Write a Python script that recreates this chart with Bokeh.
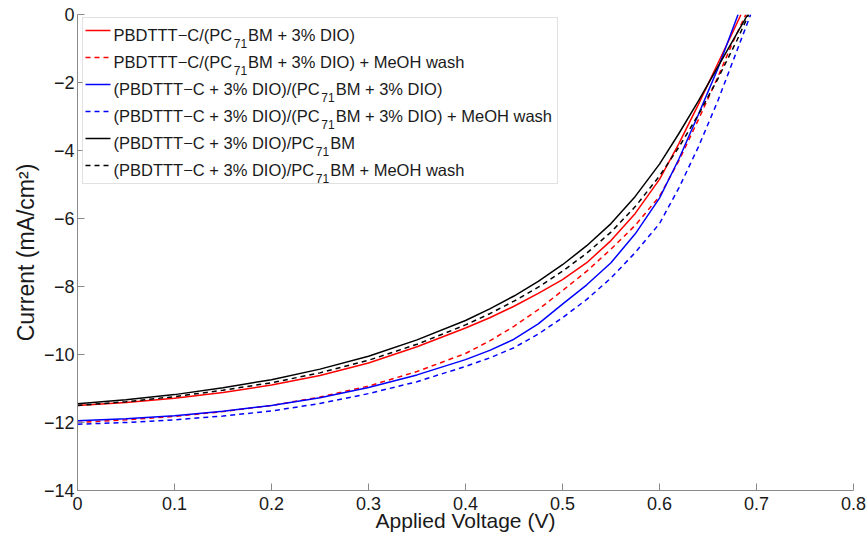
from bokeh.plotting import figure
from bokeh.models import Range1d, FixedTicker, CustomJSTickFormatter, Label, BoxAnnotation
from bokeh.embed import file_html
from bokeh.resources import INLINE

# ---------------- data ----------------
v_red = [0, 0.05, 0.1, 0.15, 0.2, 0.25, 0.3, 0.35, 0.4, 0.425, 0.45, 0.475, 0.5, 0.525, 0.55, 0.575,
         0.6, 0.62, 0.64, 0.66, 0.675, 0.684]
j_red = [-11.5, -11.41, -11.29, -11.12, -10.9, -10.62, -10.25, -9.77, -9.22, -8.92, -8.58, -8.2, -7.8,
         -7.3, -6.65, -5.85, -4.85, -3.8, -2.65, -1.45, -0.55, 0.0]

v_red_wash = [0, 0.05, 0.1, 0.15, 0.2, 0.25, 0.3, 0.35, 0.4, 0.425, 0.45, 0.475, 0.5, 0.525, 0.55, 0.575,
              0.6, 0.62, 0.64, 0.66, 0.675, 0.689]
j_red_wash = [-12.0, -11.92, -11.82, -11.68, -11.5, -11.25, -10.93, -10.5, -9.97, -9.6, -9.17, -8.68, -8.12,
              -7.55, -6.9, -6.2, -5.35, -4.3, -3.1, -1.85, -0.85, 0.0]

v_blue = [0, 0.05, 0.1, 0.15, 0.2, 0.25, 0.3, 0.35, 0.4, 0.425, 0.45, 0.475, 0.5, 0.525, 0.55, 0.575,
          0.6, 0.62, 0.64, 0.66, 0.681]
j_blue = [-11.95, -11.89, -11.8, -11.67, -11.5, -11.27, -10.97, -10.6, -10.15, -9.88, -9.55, -9.1, -8.52,
          -7.95, -7.3, -6.45, -5.4, -4.25, -2.95, -1.6, 0.0]

v_blue_wash = [0, 0.05, 0.1, 0.15, 0.2, 0.25, 0.3, 0.35, 0.4, 0.425, 0.45, 0.475, 0.5, 0.525, 0.55, 0.575,
               0.6, 0.62, 0.64, 0.66, 0.68, 0.694]
j_blue_wash = [-12.05, -12.0, -11.92, -11.81, -11.66, -11.44, -11.15, -10.8, -10.35, -10.1, -9.8, -9.4, -8.92,
               -8.38, -7.75, -7.0, -6.15, -5.1, -3.9, -2.55, -1.05, 0.0]

v_black = [0, 0.05, 0.1, 0.15, 0.2, 0.25, 0.3, 0.35, 0.4, 0.425, 0.45, 0.475, 0.5, 0.525, 0.55, 0.575,
           0.6, 0.62, 0.64, 0.66, 0.68, 0.691]
j_black = [-11.45, -11.33, -11.18, -10.98, -10.74, -10.43, -10.05, -9.57, -9.0, -8.66, -8.28, -7.85, -7.36,
           -6.8, -6.15, -5.35, -4.4, -3.5, -2.55, -1.55, -0.55, 0.0]

v_black_wash = [0, 0.05, 0.1, 0.15, 0.2, 0.25, 0.3, 0.35, 0.4, 0.425, 0.45, 0.475, 0.5, 0.525, 0.55, 0.575,
                0.6, 0.62, 0.64, 0.66, 0.68, 0.692]
j_black_wash = [-11.5, -11.39, -11.24, -11.05, -10.83, -10.54, -10.17, -9.7, -9.13, -8.8, -8.43, -8.02, -7.55,
                -7.02, -6.4, -5.65, -4.75, -3.9, -2.95, -1.9, -0.75, 0.0]

x_ticks = [0, 0.1, 0.2, 0.3, 0.4, 0.5, 0.6, 0.7, 0.8]
y_ticks = [-14, -12, -10, -8, -6, -4, -2, 0]

x_title = "Applied Voltage (V)"
y_title = "Current (mA/cm\u00b2)"

legend_parts = [
    ("PBDTTT\u2212C/(PC", "71", "BM + 3% DIO)"),
    ("PBDTTT\u2212C/(PC", "71", "BM + 3% DIO) + MeOH wash"),
    ("(PBDTTT\u2212C + 3% DIO)/(PC", "71", "BM + 3% DIO)"),
    ("(PBDTTT\u2212C + 3% DIO)/(PC", "71", "BM + 3% DIO) + MeOH wash"),
    ("(PBDTTT\u2212C + 3% DIO)/PC", "71", "BM"),
    ("(PBDTTT\u2212C + 3% DIO)/PC", "71", "BM + MeOH wash"),
]

series = [
    (v_red, j_red, "#ff0000", "solid"),
    (v_red_wash, j_red_wash, "#ff0000", "5 4"),
    (v_blue, j_blue, "#0000ff", "solid"),
    (v_blue_wash, j_blue_wash, "#0000ff", "5 4"),
    (v_black, j_black, "#000000", "solid"),
    (v_black_wash, j_black_wash, "#000000", "5 4"),
]

# ---------------- layout ----------------
FONT = "Liberation Sans"
TXT = "#1a1a1a"
X0, X1, Y0, Y1 = 0.0, 0.8, -14.0, 0.0
FW, FH = 776, 476
ML, MT = 77, 14

p = figure(frame_width=FW, frame_height=FH, min_border_left=ML, min_border_right=15,
           min_border_top=MT, min_border_bottom=50,
           x_range=Range1d(X0, X1), y_range=Range1d(Y0, Y1),
           output_backend="svg", toolbar_location=None, tools="")
p.background_fill_color = "white"
p.border_fill_color = "white"
p.outline_line_color = None
p.xgrid.visible = False
p.ygrid.visible = False

p.xaxis.ticker = FixedTicker(ticks=x_ticks)
p.yaxis.ticker = FixedTicker(ticks=y_ticks)
p.xaxis.formatter = CustomJSTickFormatter(code="return (Math.round(tick*10)/10).toString();")
p.yaxis.formatter = CustomJSTickFormatter(code="return tick < 0 ? '\u2212' + Math.abs(tick) : tick.toString();")

for ax in (p.xaxis, p.yaxis):
    ax.axis_line_color = "#8a8a8a"
    ax.major_tick_line_color = "#8a8a8a"
    ax.major_tick_in = 7
    ax.major_tick_out = 0
    ax.minor_tick_line_color = None
    ax.major_label_text_font = FONT
    ax.major_label_text_font_size = "18px"
    ax.major_label_text_color = TXT
    ax.axis_label_text_font = FONT
    ax.axis_label_text_font_style = "normal"
    ax.axis_label_text_color = TXT

p.xaxis.axis_label = x_title
p.xaxis.axis_label_text_font_size = "21px"
p.xaxis.major_label_standoff = 6
p.xaxis.axis_label_standoff = -4
p.yaxis.axis_label = y_title
p.yaxis.axis_label_text_font_size = "23px"
p.yaxis.major_label_standoff = 3
p.yaxis.axis_label_standoff = 2

for v, j, c, d in series:
    p.line(v, j, line_color=c, line_width=1.5, line_dash=d)

# ---------------- helpers: pixel layout -> data coords ----------------
def dx(px):
    return X0 + (px - ML) * (X1 - X0) / FW

def dy(py):
    return Y1 - (py - MT) * (Y1 - Y0) / FH

W = {" ": 278, "(": 333, ")": 333, "/": 278, "+": 584, "%": 889, "\u2212": 584, ".": 278,
     "A": 667, "B": 667, "C": 722, "D": 722, "H": 722, "I": 278, "M": 833, "O": 778,
     "P": 667, "T": 611, "a": 556, "e": 556, "h": 556, "s": 500, "w": 722}
def width(s, size):
    return sum(W.get(ch, 556) for ch in s) * size / 1000.0

# ---------------- manual legend ----------------
MAIN, SUB = 16.5, 12.0
p.add_layout(BoxAnnotation(left=dx(82), right=dx(557), top=dy(17), bottom=dy(183),
                           fill_color="white", fill_alpha=1.0, line_color="#9a9a9a",
                           line_width=1, level="annotation"))

for i, ((a, sub, b), (v, j, c, d)) in enumerate(zip(legend_parts, series)):
    base = 34 + 27 * i
    p.line([dx(85), dx(110)], [dy(base - 4), dy(base - 4)], line_color=c, line_width=1.5,
           line_dash=d, level="overlay")
    x = 113
    p.add_layout(Label(x=dx(x), y=dy(base), text=a, text_font=FONT, text_font_size=f"{MAIN}px",
                       text_baseline="alphabetic", text_align="left", text_color=TXT))
    x += width(a, MAIN) + 1.5
    p.add_layout(Label(x=dx(x), y=dy(base + 9), text=sub, text_font=FONT, text_font_size=f"{SUB}px",
                       text_baseline="alphabetic", text_align="left", text_color=TXT))
    x += width(sub, SUB) + 1
    p.add_layout(Label(x=dx(x), y=dy(base), text=b, text_font=FONT, text_font_size=f"{MAIN}px",
                       text_baseline="alphabetic", text_align="left", text_color=TXT))

open("out.html", "w").write(file_html(p, INLINE))
